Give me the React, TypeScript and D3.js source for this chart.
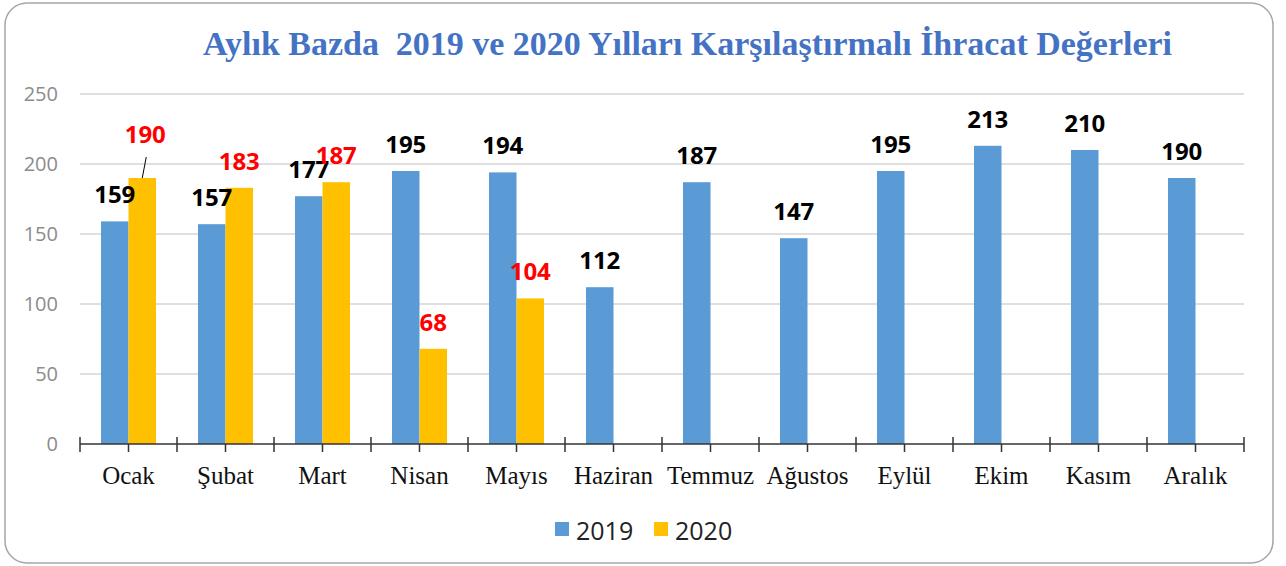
import React from "react";
import * as d3 from "d3";

const months = ["Ocak", "Şubat", "Mart", "Nisan", "Mayıs", "Haziran", "Temmuz", "Ağustos", "Eylül", "Ekim", "Kasım", "Aralık"];
const values2019: (number | null)[] = [159, 157, 177, 195, 194, 112, 187, 147, 195, 213, 210, 190];
const values2020: (number | null)[] = [190, 183, 187, 68, 104, null, null, null, null, null, null, null];
const seriesNames = ["2019", "2020"];
const seriesColors = ["#5B9BD5", "#FFC000"];
const labelColors = ["#000000", "#FF0000"];
const yTicks = [0, 50, 100, 150, 200, 250];
const title = "Aylık Bazda  2019 ve 2020 Yılları Karşılaştırmalı İhracat Değerleri";
// manually moved data labels (series index, month index, dx, dy) with leader line
const movedLabels = [{ s: 1, m: 0, dx: 3, dy: -17 }];

const W = 1286, H = 566;
const plotL = 80, plotR = 1244, plotT = 94, plotB = 444;

export default function App() {
  const x = d3.scaleBand<string>().domain(months).range([plotL, plotR]).paddingInner(0).paddingOuter(0);
  const y = d3.scaleLinear().domain([0, 250]).range([plotB, plotT]);
  const bw = 27.5;
  const x1 = d3.scaleBand<string>().domain(seriesNames).range([-bw, bw]).padding(0);
  const series = [values2019, values2020];
  const sans = "'Open Sans', 'DejaVu Sans', sans-serif";
  const serif = "'Liberation Serif', 'DejaVu Serif', serif";

  return (
    <svg width={W} height={H} style={{ position: "absolute", left: 0, top: 0, background: "#fff" }}>
      <rect x={5} y={3} width={1268} height={560} rx={22} ry={22} fill="#fff" stroke="#a6a6a6" strokeWidth={1.5} />
      <text x={687.5} y={55} textAnchor="middle" fontFamily={serif} fontWeight={700} fontSize={33} fill="#4472C4"
        textLength={969} lengthAdjust="spacingAndGlyphs" style={{ whiteSpace: "pre" }}>{title}</text>
      {yTicks.map((t) => (
        <g key={t}>
          {t > 0 && <line x1={plotL} x2={plotR} y1={y(t)} y2={y(t)} stroke="#d4d4d4" strokeWidth={1.3} />}
          <text x={58} y={y(t)} dy="0.36em" textAnchor="end" fontFamily={sans} fontSize={20} fill="#8c8c8c">{t}</text>
        </g>
      ))}
      {months.map((m, i) => {
        const cx = (x(m) as number) + x.bandwidth() / 2;
        return (
          <g key={m}>
            {series.map((vals, s) => {
              const v = vals[i];
              if (v == null) return null;
              const bx = cx + (x1(seriesNames[s]) as number);
              return <rect key={s} x={bx} y={y(v)} width={x1.bandwidth()} height={y(0) - y(v)} fill={seriesColors[s]} />;
            })}
          </g>
        );
      })}
      <line x1={plotL} x2={plotR} y1={plotB} y2={plotB} stroke="#333" strokeWidth={1.5} />
      {d3.range(months.length + 1).map((k) => {
        const tx = plotL + k * x.bandwidth();
        return <line key={"b" + k} x1={tx} x2={tx} y1={plotB - 7} y2={plotB + 8} stroke="#333" strokeWidth={1.5} />;
      })}
      {months.map((m) => {
        const cx = (x(m) as number) + x.bandwidth() / 2;
        return (
          <g key={"c" + m}>
            <line x1={cx} x2={cx} y1={plotB} y2={plotB + 8} stroke="#333" strokeWidth={1.5} />
            <text x={cx} y={484} textAnchor="middle" fontFamily={serif} fontSize={25} fill="#111">{m}</text>
          </g>
        );
      })}
      {months.map((m, i) => {
        const cx = (x(m) as number) + x.bandwidth() / 2;
        return series.map((vals, s) => {
          const v = vals[i];
          if (v == null) return null;
          const lx = cx + (x1(seriesNames[s]) as number) + x1.bandwidth() / 2;
          const ly = y(v) - 18;
          const mv = movedLabels.find((o) => o.s === s && o.m === i);
          const tx = lx + (mv ? mv.dx : 0);
          const ty = ly + (mv ? mv.dy : 0);
          return (
            <g key={m + s}>
              {mv && <line x1={tx + 1} y1={ty + 14} x2={lx} y2={y(v)} stroke="#000" strokeWidth={1} />}
              <text x={tx} y={ty} textAnchor="middle" fontFamily={sans} fontWeight={700} fontSize={24} fill={labelColors[s]}>{v}</text>
            </g>
          );
        });
      })}
      {seriesNames.map((n, s) => {
        const lx = 555 + s * 99;
        return (
          <g key={n}>
            <rect x={lx} y={522} width={14} height={14} fill={seriesColors[s]} />
            <text x={lx + 21} y={540} fontFamily={sans} fontSize={25} fill="#222">{n}</text>
          </g>
        );
      })}
    </svg>
  );
}
